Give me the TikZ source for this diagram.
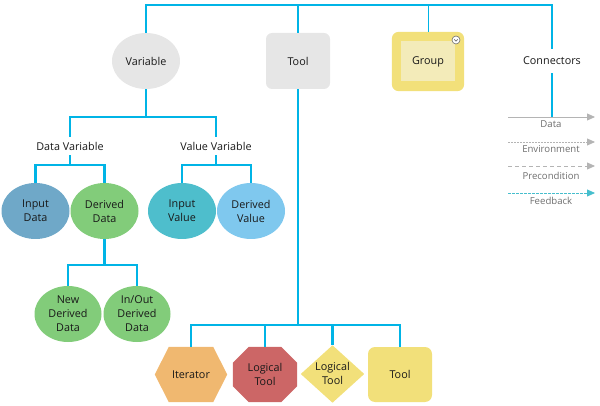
\documentclass[tikz,border=0pt]{standalone}
\usepackage{fontspec}
\setmainfont{Open Sans}
\usetikzlibrary{arrows.meta,shapes.geometric}
\definecolor{linec}{RGB}{0,180,230}
\definecolor{greyfill}{RGB}{230,230,230}
\definecolor{inputdata}{RGB}{111,168,200}
\definecolor{greenc}{RGB}{130,204,122}
\definecolor{inputvalue}{RGB}{78,190,204}
\definecolor{derivedvalue}{RGB}{127,200,238}
\definecolor{iterc}{RGB}{240,184,112}
\definecolor{octc}{RGB}{204,102,102}
\definecolor{yellowc}{RGB}{242,224,122}
\definecolor{groupin}{RGB}{243,235,185}
\definecolor{legendc}{RGB}{180,180,180}
\definecolor{legendtext}{RGB}{110,110,110}
\definecolor{feedc}{RGB}{70,190,205}
\definecolor{textc}{RGB}{25,25,25}
\tikzset{
  tree/.style={draw=linec, line width=2.5pt},
  thintree/.style={draw=linec, line width=1pt},
  lbl/.style={font=\fontsize{10.8}{14}\selectfont, text=textc, align=center},
  ell/.style={lbl, ellipse, minimum width=68pt, minimum height=56pt, inner sep=0pt},
  box/.style={lbl, rectangle, minimum width=64pt, minimum height=56pt, inner sep=0pt},
  txtlbl/.style={lbl, minimum height=18pt, inner sep=0pt},
  legline/.style={draw=legendc, line width=0.8pt, -{Triangle[length=8pt,width=7pt]}},
  legtext/.style={font=\fontsize{9.6}{11}\selectfont, text=legendtext},
}
\begin{document}
\begin{tikzpicture}[x=1pt,y=-1pt]
\useasboundingbox (0,0) rectangle (600,406);
% top level nodes
\node[ell, fill=greyfill] (var) at (146,61) {Variable};
\node[box, fill=greyfill, rounded corners=6pt] (tool) at (298,61) {Tool};
\node[lbl, minimum width=72pt, minimum height=59pt, inner sep=0pt] (group) at (428,61.5) {};
\fill[yellowc, rounded corners=7pt] (group.south west) rectangle (group.north east);
\fill[groupin] ([shift={(9pt,10pt)}]group.south west) rectangle ([shift={(-9pt,-9pt)}]group.north east);
\node[lbl] at (group.center) {Group};
\node[circle, draw=legendtext, fill=white, line width=0.6pt, minimum size=8pt, inner sep=0pt] (gicon) at (456,40) {};
\draw[legendtext, line width=0.7pt] ([shift={(-1.7pt,0.6pt)}]gicon.center) -- ([shift={(0pt,-1.1pt)}]gicon.center) -- ([shift={(1.7pt,0.6pt)}]gicon.center);
\node[txtlbl, minimum height=24pt] (conn) at (552,61) {Connectors};
% top bar
\coordinate (tl) at (146,5);
\coordinate (tr) at (552,5);
\draw[tree] (var.north) |- (tr) -- (conn.north);
\draw[tree] (tool.north) -- (tool.north |- tl);
\draw[thintree] (group.north) -- (group.north |- tl);
% legend
\coordinate (l1a) at (508,117); \coordinate (l1b) at (595,117);
\coordinate (l2a) at (508,142); \coordinate (l2b) at (595,142);
\coordinate (l3a) at (508,166); \coordinate (l3b) at (595,166);
\coordinate (l4a) at (508,193); \coordinate (l4b) at (595,193);
\draw[tree] (conn.south) -- (conn.south |- l1a);
\draw[legline] (l1a) -- (l1b);
\draw[legline, dash pattern=on 1.5pt off 1.5pt] (l2a) -- (l2b);
\draw[legline, dash pattern=on 4pt off 3pt] (l3a) -- (l3b);
\draw[legline, draw=feedc, dash pattern=on 2.5pt off 1.5pt] (l4a) -- (l4b);
\node[legtext] (t1) at (551,124.5) {Data};
\node[legtext] (t2) at (551,149.5) {Environment};
\node[legtext] (t3) at (551,176) {Precondition};
\node[legtext] (t4) at (551,201) {Feedback};
% variable subtree
\node[txtlbl] (datavar) at (70,146) {Data Variable};
\node[txtlbl] (valvar) at (216,146) {Value Variable};
\coordinate (j1) at (146,117);
\draw[tree] (var.south) -- (j1);
\draw[tree] (datavar.north) |- (j1) -| (valvar.north);
\node[ell, fill=inputdata] (indata) at (35.5,211) {Input\\Data};
\node[ell, fill=greenc] (derdata) at (104.5,211) {Derived\\Data};
\node[ell, fill=inputvalue] (inval) at (182,211) {Input\\Value};
\node[ell, fill=derivedvalue] (derval) at (251,211) {Derived\\Value};
\coordinate (j2) at (70,165);
\coordinate (j3) at (216,165);
\draw[tree] (datavar.south) -- (j2);
\draw[tree] (indata.north) |- (j2) -| (derdata.north);
\draw[tree] (valvar.south) -- (j3);
\draw[tree] (inval.north) |- (j3) -| (derval.north);
\node[ell, fill=greenc, minimum width=67pt] (newder) at (68,314) {New\\Derived\\Data};
\node[ell, fill=greenc, minimum width=67pt] (ioder) at (137,314) {In/Out\\Derived\\Data};
\coordinate (j4) at (104.5,265);
\draw[tree] (derdata.south) -- (j4);
\draw[tree] (newder.north) |- (j4) -| (ioder.north);
% tool subtree
\node[lbl, minimum width=72pt, minimum height=55pt, inner sep=0pt] (iter) at (191,374.5) {};
\fill[iterc] (iter.west) -- ([xshift=14pt]iter.north west) -- ([xshift=-14pt]iter.north east) -- (iter.east) -- ([xshift=-14pt]iter.south east) -- ([xshift=14pt]iter.south west) -- cycle;
\node[lbl] at (iter.center) {Iterator};
\node[lbl, minimum width=64pt, minimum height=55pt, inner sep=0pt] (ltool1) at (265,374.5) {};
\fill[octc] ([yshift=16pt]ltool1.south west) -- ([yshift=-16pt]ltool1.north west) -- ([xshift=16pt]ltool1.north west) -- ([xshift=-16pt]ltool1.north east) -- ([yshift=-16pt]ltool1.north east) -- ([yshift=16pt]ltool1.south east) -- ([xshift=-16pt]ltool1.south east) -- ([xshift=16pt]ltool1.south west) -- cycle;
\node[lbl] at (ltool1.center) {Logical\\Tool};
\node[lbl, minimum width=63pt, minimum height=57pt, inner sep=0pt] (ltool2) at (332.5,374) {};
\fill[yellowc] (ltool2.north) -- (ltool2.east) -- (ltool2.south) -- (ltool2.west) -- cycle;
\node[lbl] at ([yshift=1pt]ltool2.center) {Logical\\Tool};
\node[box, fill=yellowc, rounded corners=7pt, minimum height=55pt] (tool2) at (400,374.5) {Tool};
\coordinate (j5) at (298,325);
\draw[tree] (tool.south) -- (j5);
\draw[tree] (iter.north) |- (j5) -| (tool2.north);
\draw[tree] (ltool1.north) -- (ltool1.north |- j5);
\draw[tree] (ltool2.north) -- (ltool2.north |- j5);
\end{tikzpicture}
\end{document}
